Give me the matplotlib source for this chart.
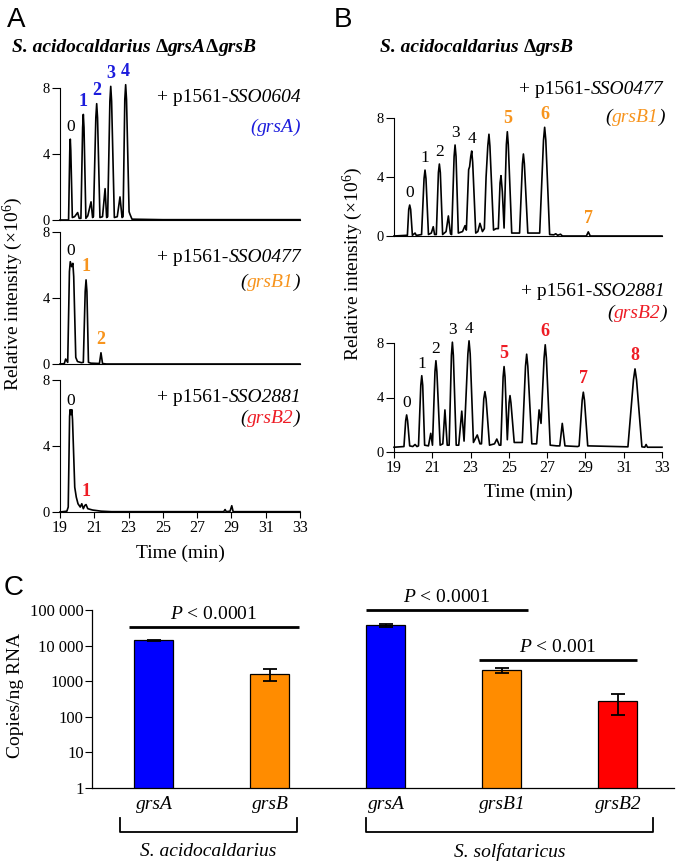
import numpy as np
import matplotlib
matplotlib.use("Agg")
import matplotlib.pyplot as plt
from matplotlib.offsetbox import TextArea, HPacker, AnnotationBbox
from matplotlib.ticker import LogLocator, NullFormatter
from matplotlib.transforms import blended_transform_factory

plt.rcParams["font.family"] = ["Liberation Serif", "DejaVu Serif"]
plt.rcParams["mathtext.fontset"] = "custom"
plt.rcParams["mathtext.rm"] = "Liberation Serif"
plt.rcParams["mathtext.it"] = "Liberation Serif:italic"
plt.rcParams["mathtext.bf"] = "Liberation Serif:bold"

BLUE = "#1c1cdc"
ORANGE = "#f7941d"
RED = "#ee1c25"

# ---- chromatograms (time in min, intensity x10^6) ----
A1_t = [19.0, 19.50, 19.57, 19.60, 19.63, 19.72, 19.85, 20.03, 20.12, 20.22, 20.32,
        20.36, 20.40, 20.51, 20.62, 20.81, 20.90, 20.95, 21.09, 21.14, 21.19, 21.33,
        21.48, 21.63, 21.72, 21.78, 21.91, 21.96, 22.01, 22.17, 22.34, 22.50, 22.62,
        22.68, 22.78, 22.83, 22.88, 23.03, 23.08, 23.20, 25.0, 29.0, 33.0]
A1_y = [0.0, 0.0, 4.2, 4.9, 4.2, 0.15, 0.2, 0.45, 0.1, 0.1, 5.6,
        6.4, 5.6, 0.1, 0.25, 1.1, 0.15, 0.2, 6.2, 7.05, 6.2, 0.15,
        0.2, 1.9, 0.15, 0.2, 7.2, 8.1, 7.2, 0.15, 0.2, 1.4, 0.15,
        0.2, 7.3, 8.2, 7.3, 0.5, 0.35, 0.05, 0.02, 0.02, 0.02]

A2_t = [19.0, 19.25, 19.33, 19.45, 19.55, 19.60, 19.68, 19.75, 19.80, 19.92, 20.02,
        20.25, 20.36, 20.47, 20.52, 20.57, 20.66, 20.80, 21.30, 21.39, 21.48, 21.70,
        33.0]
A2_y = [0.0, 0.02, 0.3, 0.1, 5.6, 6.2, 5.9, 6.1, 5.3, 0.4, 0.15,
        0.08, 0.1, 4.4, 5.1, 4.4, 0.1, 0.05, 0.03, 0.68, 0.03, 0.0,
        0.0]

A3_t = [19.0, 19.40, 19.48, 19.56, 19.59, 19.64, 19.69, 19.73, 19.86, 19.95, 20.05,
        20.18, 20.27, 20.36, 20.45, 20.52, 20.62, 20.90, 21.40, 22.0, 28.55, 28.63,
        28.70, 28.92, 29.02, 29.10, 33.0]
A3_y = [0.0, 0.05, 0.3, 5.8, 6.2, 5.9, 6.2, 5.6, 1.5, 0.9, 0.5,
        0.3, 0.5, 0.2, 0.4, 0.45, 0.2, 0.12, 0.05, 0.02, 0.02, 0.15,
        0.02, 0.05, 0.38, 0.02, 0.02]

B1_t = [19.0, 19.70, 19.77, 19.82, 19.87, 19.96, 20.10, 20.16, 20.22, 20.44, 20.57,
        20.62, 20.67, 20.80, 20.95, 21.05, 21.12, 21.21, 21.32, 21.37, 21.42, 21.54,
        21.72, 21.84, 21.95, 22.01, 22.14, 22.19, 22.24, 22.36, 22.58, 22.71, 22.78,
        22.90, 22.95, 23.01, 23.06, 23.11, 23.27, 23.38, 23.49, 23.62, 23.72, 23.81,
        23.90, 23.96, 24.01, 24.20, 24.33, 24.45, 24.54, 24.59, 24.66, 24.75, 24.87,
        24.92, 24.97, 25.15, 25.56, 25.71, 25.76, 25.81, 25.99, 26.61, 26.81, 26.87,
        26.93, 27.13, 27.35, 27.45, 27.55, 27.70, 27.80, 28.10, 29.05, 29.15, 29.25,
        33.0]
B1_y = [0.0, 0.05, 1.8, 2.1, 1.8, 0.05, 0.2, 0.05, 0.05, 0.1, 3.9,
        4.47, 3.9, 0.1, 0.2, 0.63, 0.1, 0.1, 4.3, 4.88, 4.3, 0.1,
        0.3, 1.36, 0.15, 0.1, 5.4, 6.17, 5.4, 0.2, 0.3, 0.7, 0.4,
        4.5, 4.7, 5.4, 5.76, 5.0, 0.2, 0.3, 0.86, 0.3, 0.5, 4.0,
        6.1, 6.9, 6.1, 0.4, 0.5, 0.5, 3.6, 4.09, 3.0, 0.54, 6.2,
        7.07, 6.2, 0.2, 0.2, 4.9, 5.56, 4.9, 0.2, 0.2, 6.5, 7.37,
        6.5, 0.1, 0.08, 0.15, 0.05, 0.12, 0.0, 0.0, 0.0, 0.28, 0.0,
        0.0]

B2_t = [19.0, 19.52, 19.61, 19.66, 19.71, 19.82, 19.98, 20.10, 20.20, 20.28, 20.40,
        20.45, 20.50, 20.60, 20.80, 20.92, 21.01, 21.14, 21.19, 21.24, 21.41, 21.55,
        21.66, 21.78, 21.88, 22.00, 22.05, 22.10, 22.25, 22.38, 22.54, 22.66, 22.86,
        22.92, 22.98, 23.15, 23.35, 23.49, 23.57, 23.69, 23.75, 23.81, 23.99, 24.25,
        24.37, 24.50, 24.58, 24.70, 24.75, 24.80, 24.92, 25.01, 25.06, 25.11, 25.28,
        25.70, 25.87, 25.93, 25.99, 26.20, 26.45, 26.58, 26.68, 26.84, 26.90, 26.96,
        27.16, 27.50, 27.66, 27.79, 27.93, 28.60, 28.67, 28.83, 28.89, 28.95, 29.12,
        31.22, 31.51, 31.59, 31.67, 31.95, 32.10, 32.17, 32.24, 33.0]
B2_y = [0.35, 0.4, 2.3, 2.72, 2.3, 0.45, 0.4, 0.55, 0.4, 0.45, 4.9,
        5.6, 4.9, 0.5, 0.45, 1.37, 0.5, 5.9, 6.7, 5.9, 0.5, 0.6,
        3.09, 0.5, 0.5, 7.1, 8.06, 7.1, 0.5, 0.5, 3.0, 0.8, 7.2,
        8.16, 7.2, 0.7, 1.25, 0.6, 0.6, 3.9, 4.43, 3.9, 0.5, 0.6,
        0.95, 0.5, 0.5, 5.5, 6.27, 5.5, 0.9, 3.6, 4.14, 3.6, 0.7,
        0.7, 6.3, 7.18, 6.3, 0.6, 0.6, 3.09, 2.1, 6.9, 7.87, 6.9,
        0.5, 0.45, 0.45, 2.1, 0.45, 0.4, 0.45, 3.8, 4.39, 3.8, 0.45,
        0.38, 5.3, 6.1, 5.3, 0.38, 0.35, 0.55, 0.35, 0.35]

# peak numbers: label, retention time, colour
A1_peaks = (["0", "1", "2", "3", "4"], [19.60, 20.36, 21.14, 21.96, 22.83],
            ["k", BLUE, BLUE, BLUE, BLUE])
A2_peaks = (["0", "1", "2"], [19.62, 20.52, 21.39], ["k", ORANGE, ORANGE])
A3_peaks = (["0", "1"], [19.62, 20.52], ["k", RED])
B1_peaks = (["0", "1", "2", "3", "4", "5", "6", "7"],
            [19.82, 20.62, 21.37, 22.19, 23.06, 24.92, 26.87, 29.15],
            ["k"] * 5 + [ORANGE] * 3)
B2_peaks = (["0", "1", "2", "3", "4", "5", "6", "7", "8"],
            [19.66, 20.45, 21.19, 22.05, 22.92, 24.75, 26.90, 28.89, 31.59],
            ["k"] * 5 + [RED] * 4)

# ---- panel C: qRT-PCR ----
genes = ["grsA", "grsB", "grsA", "grsB1", "grsB2"]
copies = [14000, 1600, 37000, 2000, 270]
copies_err = [800, 600, 4000, 350, 155]
bar_colors = ["#0000ff", "#ff8c00", "#0000ff", "#ff8c00", "#ff0000"]
species = ["S. acidocaldarius", "S. solfataricus"]
p_labels = ["0.0001", "0.0001", "0.001"]
p_levels = [34000, 100000, 4000]
ytick_vals = [1, 10, 100, 1000, 10000, 100000]
ytick_text = ["1", "10", "100", "1000", "10 000", "100 000"]

W, H = 692, 864
fig = plt.figure(figsize=(W / 100, H / 100), dpi=100)


def px_axes(x0, y0, x1, y1):
    return fig.add_axes([x0 / W, 1 - y1 / H, (x1 - x0) / W, (y1 - y0) / H])


def ftext(x, y, s, **kw):
    kw.setdefault("ha", "center")
    kw.setdefault("va", "center")
    return fig.text(x / W, 1 - y / H, s, **kw)


def rich(ax, x, y, parts, right=True, size=14):
    # parts: list of (string, colour, style, weight) laid out on one baseline
    areas = [TextArea(s, textprops=dict(color=c, style=st, fontweight=wt, fontsize=size))
             for s, c, st, wt in parts]
    box = HPacker(children=areas, align="baseline", pad=0, sep=0)
    ab = AnnotationBbox(box, (x, H - y), xycoords="figure pixels",
                        box_alignment=(1 if right else 0, 0.5), frameon=False,
                        pad=0, annotation_clip=False)
    ax.add_artist(ab)


def plasmid(ax, x, y, sso):
    rich(ax, x, y, [("+ p1561-", "k", "normal", "normal"),
                    (sso, "k", "italic", "normal")])


def gene_note(ax, x, y, gene, color, paren):
    rich(ax, x, y, [("(", paren, "italic", "normal"),
                    (gene, color, "italic", "normal"),
                    (")", paren, "italic", "normal")])


def chromatogram(box, t, y, peaks, xaxis=False):
    ax = px_axes(*box)
    ax.plot(t, y, color="black", lw=1.2, clip_on=False, solid_joinstyle="round")
    ax.set_xlim(19, 33)
    ax.set_ylim(0, 8)
    for s in ("top", "right"):
        ax.spines[s].set_visible(False)
    for s in ("left", "bottom"):
        ax.spines[s].set_linewidth(0.8)
    ax.set_yticks([0, 4, 8])
    ax.tick_params(axis="y", direction="out", length=6, width=0.8, pad=1.5,
                   labelsize=10.5)
    if xaxis:
        ax.set_xticks(range(19, 34, 2))
        ax.tick_params(axis="x", direction="out", length=4, width=0.8, pad=2,
                       labelsize=11.5)
    else:
        ax.set_xticks([])
    for lbl, pt, col in zip(*peaks):
        bold = col != "k"
        ax.annotate(lbl, (pt, np.interp(pt, t, y)), xytext=(0, 9.5 if bold else 8.5),
                    textcoords="offset points", ha="center", va="center",
                    fontsize=13 if bold else 12.5, color=col,
                    fontweight="bold" if bold else "normal", annotation_clip=False)
    return ax


def title(ax, x, y, deletions):
    parts = [("S. acidocaldarius ", "k", "italic", "bold")]
    for g in deletions:
        parts += [("Δ", "k", "normal", "bold"), (g, "k", "italic", "bold")]
    rich(ax, x, y, parts, right=False)


# ---------------- panel A ----------------
axA1 = chromatogram((60, 88, 300, 220), A1_t, A1_y, A1_peaks)
axA2 = chromatogram((60, 232, 300, 364), A2_t, A2_y, A2_peaks)
axA3 = chromatogram((60, 380, 300, 512), A3_t, A3_y, A3_peaks, xaxis=True)

ftext(16, 20, "A", family="Liberation Sans", fontsize=20)
title(axA1, 12, 47, ["grsA", "grsB"])
plasmid(axA1, 301, 98, "SSO0604")
gene_note(axA1, 300, 127, "grsA", BLUE, BLUE)
plasmid(axA2, 301, 257, "SSO0477")
gene_note(axA2, 300, 282, "grsB1", ORANGE, "k")
plasmid(axA3, 301, 397, "SSO2881")
gene_note(axA3, 300, 418, "grsB2", RED, "k")
ftext(13, 294, "Relative intensity (×10$^6$)", rotation=90, fontsize=14)
ftext(180, 553, "Time (min)", fontsize=14)

# ---------------- panel B ----------------
axB1 = chromatogram((394, 118, 662, 236), B1_t, B1_y, B1_peaks)
axB2 = chromatogram((394, 343, 662, 452), B2_t, B2_y, B2_peaks, xaxis=True)

ftext(343, 20, "B", family="Liberation Sans", fontsize=20)
title(axB1, 380, 47, ["grsB"])
plasmid(axB1, 663, 90, "SSO0477")
gene_note(axB1, 665, 117, "grsB1", ORANGE, "k")
plasmid(axB2, 665, 292, "SSO2881")
gene_note(axB2, 667, 313, "grsB2", RED, "k")
ftext(353, 264, "Relative intensity (×10$^6$)", rotation=90, fontsize=14)
ftext(528, 492, "Time (min)", fontsize=14)

# ---------------- panel C ----------------
axC = px_axes(92, 610, 674, 788)
pos = np.arange(len(genes))
axC.set_yscale("log")
axC.bar(pos, copies, width=0.336, color=bar_colors, edgecolor="black", lw=0.9,
        yerr=copies_err, capsize=5,
        error_kw=dict(ecolor="black", elinewidth=1.3, capthick=1.3))
axC.set_xlim(-0.534, 4.483)
axC.set_ylim(1, 1e5)
for s in ("top", "right"):
    axC.spines[s].set_visible(False)
for s in ("left", "bottom"):
    axC.spines[s].set_linewidth(0.9)
axC.set_yticks(ytick_vals, ytick_text)
axC.yaxis.set_minor_locator(LogLocator(base=10, subs=np.arange(2, 10)))
axC.yaxis.set_minor_formatter(NullFormatter())
axC.tick_params(axis="y", which="major", length=5, width=0.8, pad=1, labelsize=12)
axC.tick_params(axis="y", which="minor", length=3, width=0.6)
axC.set_xticks(pos, genes, style="italic", fontsize=14)
axC.tick_params(axis="x", length=0, pad=6)

# significance bars
sig_x = [(-0.216, 1.25), (1.828, 3.224), (2.80, 4.16)]
sig_txt_up = [2.2, 2.3, 2.25]
for (x0, x1), lev, p, up in zip(sig_x, p_levels, p_labels, sig_txt_up):
    axC.plot([x0, x1], [lev, lev], color="black", lw=2.0, clip_on=False,
             solid_capstyle="butt")
    axC.text((x0 + x1) / 2, lev * up, "$\\mathit{P}$ < " + p, ha="center",
             va="center", fontsize=14)

# species brackets below the axis
tr = blended_transform_factory(axC.transData, axC.transAxes)
y_top = (788 - 818) / 178
y_bot = (788 - 832) / 178
for (x0, x1), name in zip([(-0.293, 1.233), (1.828, 4.302)], species):
    axC.plot([x0, x0, x1, x1], [y_top, y_bot, y_bot, y_top], color="black",
             lw=1.3, transform=tr, clip_on=False)
    axC.text((x0 + x1) / 2, (788 - 852) / 178, name, transform=tr, ha="center",
             va="center", style="italic", fontsize=14)

ftext(14, 588, "C", family="Liberation Sans", fontsize=20)
ftext(16, 695, "Copies/ng RNA", rotation=90, fontsize=14)

fig.savefig("out.png", dpi=100)
